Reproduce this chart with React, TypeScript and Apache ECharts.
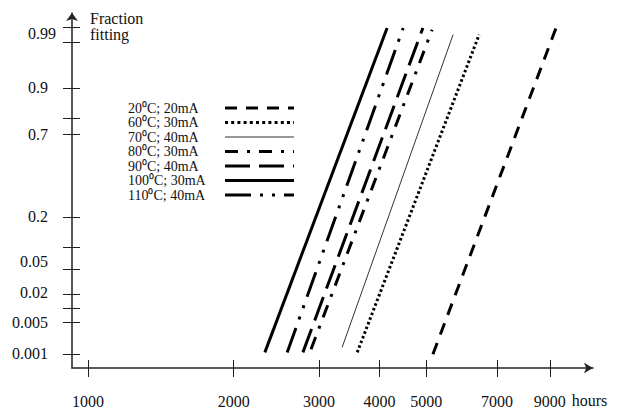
import React, { useEffect, useRef } from "react";
import * as echarts from "echarts";

// ---- data ----
const seriesNames = [
  "20⁰C; 20mA",
  "60⁰C; 30mA",
  "70⁰C; 40mA",
  "80⁰C; 30mA",
  "90⁰C; 40mA",
  "100⁰C; 30mA",
  "110⁰C; 40mA",
];
// hours at the lower and upper end of each fitted line
const hoursStart = [5160, 3600, 3350, 2890, 2780, 2320, 2580];
const hoursEnd = [9270, 6430, 5680, 5140, 4920, 4150, 4480];
// position on the probability paper (0 = time axis, 100 = top of the fraction axis)
const posStart = [3.9, 4.4, 5.8, 5.3, 4.4, 4.4, 4.4];
const posEnd = [95.8, 93.9, 93.9, 95.3, 95.8, 95.8, 95.8];

const xTicks = [1000, 2000, 3000, 4000, 5000, 7000, 9000];
const yTickPos = [96.1, 91.9, 78.9, 70.3, 65.8, 42.5, 33.9, 27.8, 20.8, 16.9, 12.8, 3.9];
const yLabels = ["0.99", "0.9", "0.7", "0.2", "0.05", "0.02", "0.005", "0.001"];
const yLabelPos = [94.2, 78.9, 65.8, 42.8, 30.0, 21.4, 12.8, 4.2];

// ---- styles ----
const FONT = "'Liberation Serif', 'Times New Roman', serif";
const lineWidths = [3, 3, 1, 3, 3, 3, 3];
const lineDashes: any[] = [
  [12, 9],
  [2.5, 2.5],
  "solid",
  [13, 9, 3, 9],
  [25, 9],
  "solid",
  [26, 9, 3, 9, 3, 9],
];
const lineColors = ["#000", "#000", "#333", "#000", "#000", "#000", "#000"];

export default function App() {
  const ref = useRef<HTMLDivElement>(null);
  useEffect(() => {
    if (!ref.current) return;
    const chart = echarts.init(ref.current, null, { renderer: "svg" });
    const axisColor = "#222";
    const option: any = {
      animation: false,
      backgroundColor: "#fff",
      grid: { left: 72, right: 26, top: 13, bottom: 36 },
      legend: {
        orient: "vertical",
        left: 123,
        top: 96,
        align: "right",
        itemWidth: 69,
        itemHeight: 15,
        itemGap: 0.5,
        selectedMode: false,
        itemStyle: { opacity: 0, borderWidth: 0 },
        lineStyle: { width: "inherit", type: "inherit" },
        textStyle: {
          fontFamily: FONT,
          fontSize: 14,
          color: "#111",
          rich: { t: { width: 92, align: "left", fontFamily: FONT, fontSize: 14, color: "#111" } },
        },
        formatter: (name: string) => `{t|${name}}`,
        data: seriesNames.map((n, i) =>
          i === 1 ? { name: n, lineStyle: { type: [3, 3.2], width: 3 } } : { name: n }
        ),
      },
      xAxis: [
        {
          type: "log",
          min: 927,
          max: 11050,
          position: "bottom",
          name: "hours",
          nameLocation: "end",
          nameGap: -29,
          nameTextStyle: {
            fontFamily: FONT,
            fontSize: 16,
            color: "#111",
            align: "left",
            verticalAlign: "top",
            lineHeight: 16,
            padding: [24, 0, 0, 0],
          },
          axisLine: {
            show: true,
            onZero: false,
            lineStyle: { color: axisColor, width: 1.5 },
            symbol: ["none", "arrow"],
            symbolSize: [8, 9],
          },
          axisTick: { show: true, customValues: xTicks, length: 9, lineStyle: { color: axisColor, width: 1 } },
          axisLabel: {
            show: true,
            customValues: xTicks,
            margin: 25,
            fontFamily: FONT,
            fontSize: 16,
            lineHeight: 16,
            color: "#111",
            formatter: (v: number) => String(Math.round(v)),
          },
          splitLine: { show: false },
          minorTick: { show: false },
        },
        {
          type: "log",
          min: 927,
          max: 11050,
          position: "bottom",
          axisLine: { show: false, onZero: false },
          axisTick: { show: true, inside: true, customValues: xTicks, length: 8, lineStyle: { color: axisColor, width: 1 } },
          axisLabel: { show: false },
          splitLine: { show: false },
        },
      ],
      yAxis: [
        {
          type: "value",
          min: 0,
          max: 100,
          position: "left",
          name: "Fraction\nfitting",
          nameLocation: "end",
          nameGap: 3,
          nameTextStyle: {
            fontFamily: FONT,
            fontSize: 16,
            lineHeight: 16,
            color: "#111",
            align: "left",
            verticalAlign: "top",
            padding: [0, 0, 0, 18],
          },
          axisLine: {
            show: true,
            onZero: false,
            lineStyle: { color: axisColor, width: 1.5 },
            symbol: ["none", "arrow"],
            symbolSize: [9, 8],
          },
          axisTick: { show: true, customValues: yTickPos, length: 9, lineStyle: { color: axisColor, width: 1 } },
          axisLabel: {
            show: true,
            customValues: yLabelPos,
            margin: 24,
            fontFamily: FONT,
            fontSize: 16,
            color: "#111",
            formatter: (v: number) => {
              let best = 0;
              for (let i = 0; i < yLabelPos.length; i++) {
                if (Math.abs(yLabelPos[i] - v) < Math.abs(yLabelPos[best] - v)) best = i;
              }
              return best === 0 ? `{w|${yLabels[best]}}` : yLabels[best];
            },
            rich: { w: { width: 20, align: "left", fontFamily: FONT, fontSize: 16, color: "#111" } },
          },
          splitLine: { show: false },
        },
        {
          type: "value",
          min: 0,
          max: 100,
          position: "left",
          axisLine: { show: false, onZero: false },
          axisTick: { show: true, inside: true, customValues: yTickPos, length: 8, lineStyle: { color: axisColor, width: 1 } },
          axisLabel: { show: false },
          splitLine: { show: false },
        },
      ],
      series: seriesNames.map((n, i) => ({
        name: n,
        type: "line",
        xAxisIndex: 0,
        yAxisIndex: 0,
        symbol: "none",
        showSymbol: false,
        silent: true,
        lineStyle: { color: lineColors[i], width: lineWidths[i], type: lineDashes[i], cap: "butt" },
        itemStyle: { color: lineColors[i] },
        data: [
          [hoursStart[i], posStart[i]],
          [hoursEnd[i], posEnd[i]],
        ],
      })),
    };
    chart.setOption(option);
    return () => chart.dispose();
  }, []);
  return (
    <div
      ref={ref}
      style={{ position: "fixed", left: 0, top: 0, width: 619, height: 409, background: "#fff" }}
    />
  );
}
